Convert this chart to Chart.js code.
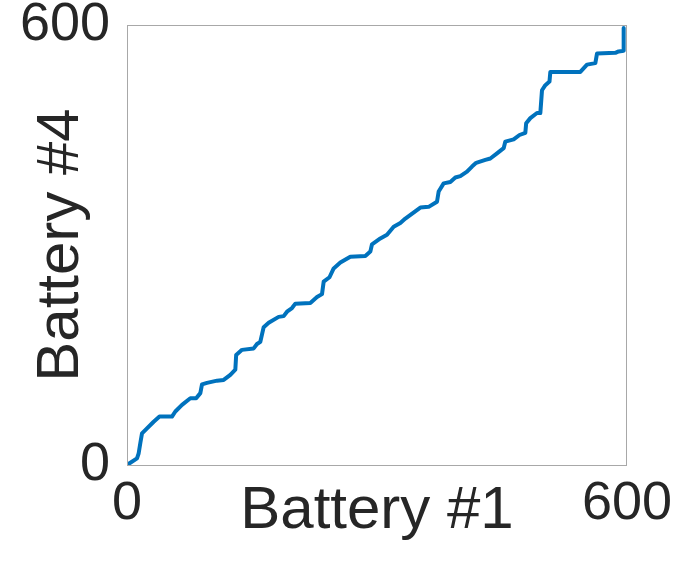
<!DOCTYPE html>
<html>
<head>
<meta charset="utf-8">
<script src="https://cdn.jsdelivr.net/npm/chart.js@4/dist/chart.umd.min.js"></script>
<style>
  html, body { margin: 0; padding: 0; background: #fff; }
  #wrap { width: 675px; height: 565px; position: relative; }
</style>
</head>
<body>
<div id="wrap"><canvas id="chart"></canvas></div>
<script>
// DATA
const battery1 = [0, 12, 14, 16, 18, 24, 32, 39, 54, 58, 66, 76, 83, 88, 90, 96, 108, 116, 124, 130,
  131, 138, 152, 156, 160, 164, 170, 182, 188, 192, 198, 202, 220, 228, 234, 236, 243, 248, 256, 268,
  286, 292, 294, 304, 312, 320, 328, 334, 352, 362, 372, 374, 380, 388, 394, 400, 408, 414, 419, 430,
  436, 444, 452, 454, 464, 471, 478, 479, 484, 492, 496, 498, 502, 507, 508, 544, 552, 562, 564, 586,
  590, 596, 596]
const battery4 = [0, 9, 16, 30, 43, 50, 59, 66, 66, 73, 82, 91, 91, 98, 110, 112, 115, 116, 123, 130,
  150, 157, 159, 165, 168, 188, 194, 202, 203, 209, 214, 220, 221, 229, 233, 250, 256, 268, 276, 284,
  285, 291, 301, 309, 314, 325, 330, 336, 351, 352, 359, 373, 384, 386, 392, 394, 400, 407, 412, 416,
  418, 425, 432, 441, 444, 450, 453, 466, 473, 480, 480, 511, 518, 523, 536, 536, 546, 548, 561, 562,
  564, 565, 596]
const xTicks = [0, 600]
const yTicks = [0, 600]
const xTitle = "Battery #1"
const yTitle = "Battery #4"

const textColor = "#262626"
const fontFamily = "'Liberation Sans', Arial, Helvetica, sans-serif"

// box round the plot area
const frame = {
  id: "frame",
  afterDraw(chart) {
    const { ctx, chartArea: a } = chart
    ctx.save()
    ctx.strokeStyle = "#a8a8a8"
    ctx.lineWidth = 1
    ctx.strokeRect(a.left + 0.5, a.top + 0.5, a.right - a.left - 1, a.bottom - a.top)
    ctx.restore()
  },
}

const ctx = document.getElementById("chart").getContext("2d")

new Chart(ctx, {
  type: "line",
  data: {
    datasets: [
      {
        data: battery1.map((x, i) => ({ x: x, y: battery4[i] })),
        borderColor: "#0072BD",
        borderWidth: 4,
        borderJoinStyle: "round",
        borderCapStyle: "round",
        pointRadius: 0,
        tension: 0,
        fill: false,
      },
    ],
  },
  options: {
    responsive: true,
    maintainAspectRatio: false,
    animation: false,
    layout: { padding: { top: 25, right: 48, left: 0, bottom: 0 } },
    plugins: { legend: { display: false }, tooltip: { enabled: false } },
    scales: {
      x: {
        type: "linear",
        min: 0,
        max: 600,
        grid: { display: false, drawTicks: false },
        border: { display: false },
        afterBuildTicks: (s) => { s.ticks = xTicks.map((v) => ({ value: v })) },
        afterFit: (s) => { s.height = 100; s.paddingLeft = 0; s.paddingRight = 0 },
        ticks: {
          padding: 7,
          maxRotation: 0,
          color: textColor,
          font: { family: fontFamily, size: 54 },
        },
        title: {
          display: true,
          text: xTitle,
          color: textColor,
          font: { family: fontFamily, size: 60 },
          padding: { top: 0, bottom: 18 },
        },
      },
      y: {
        type: "linear",
        min: 0,
        max: 600,
        grid: { display: false, drawTicks: false },
        border: { display: false },
        afterBuildTicks: (s) => { s.ticks = yTicks.map((v) => ({ value: v })) },
        afterFit: (s) => { s.width = 127; s.paddingTop = 0; s.paddingBottom = 0 },
        ticks: {
          padding: 17,
          color: textColor,
          font: { family: fontFamily, size: 54 },
        },
        title: {
          display: true,
          text: yTitle,
          color: textColor,
          font: { family: fontFamily, size: 60 },
          padding: { top: 25, bottom: 0 },
        },
      },
    },
  },
  plugins: [frame],
})
</script>
</body>
</html>
